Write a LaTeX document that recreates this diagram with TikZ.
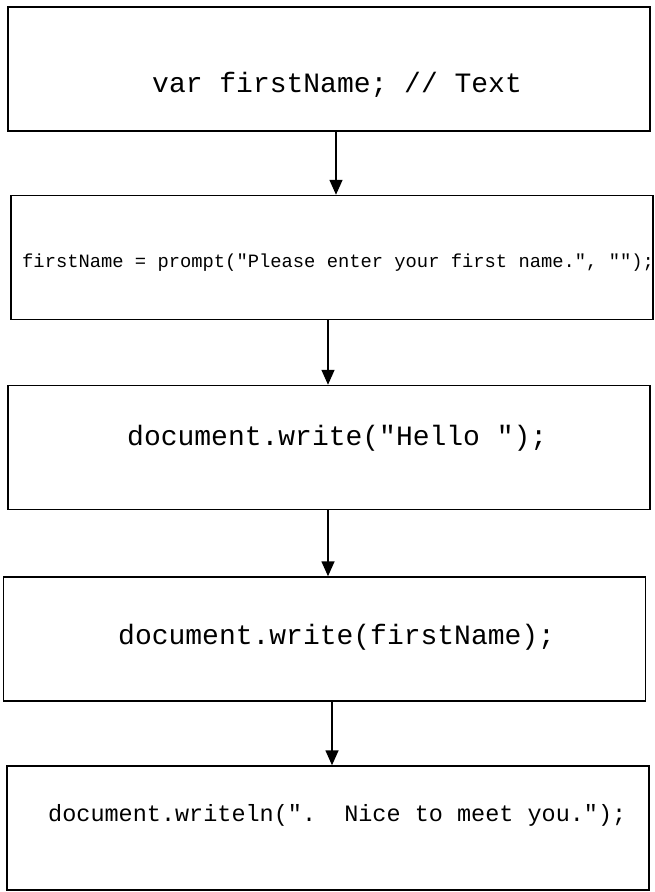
\documentclass[tikz,border=0pt]{standalone}
\usepackage{fontspec}
\setmonofont{Liberation Mono}
\usetikzlibrary{arrows.meta}

\begin{document}
\begin{tikzpicture}[x=1pt,y=-1pt]
\tikzset{
  stepbox/.style={draw,rectangle,line width=1.5pt,minimum width=642pt,minimum height=124pt,inner sep=0pt},
  code/.style={anchor=base west,inner sep=0pt,font=\ttfamily\fontsize{#1}{#1}\selectfont},
  flow/.style={-{Triangle[length=15pt,width=13pt]},line width=1.6pt}
}
\useasboundingbox (0,0) rectangle (655,892);
\node[stepbox] (n_decl) at (329,69) {};
\node[stepbox] (n_prompt) at (332,257.5) {};
\node[stepbox] (n_hello) at (329,447.5) {};
\node[stepbox] (n_name) at (324.5,639) {};
\node[stepbox] (n_nice) at (328,828) {};
\node[code=28] (t_decl) at (152,92) {var firstName; // Text};
\node[code=18.8] (t_prompt) at (22,267) {firstName = prompt("Please enter your first name.", "");};
\node[code=28] (t_hello) at (127,445) {document.write("Hello\ ");};
\node[code=28] (t_name) at (118,644) {document.write(firstName);};
\node[code=23.5] (t_nice) at (48,821) {document.writeln(".\ \ Nice to meet you.");};
\draw[flow] (n_decl.south -| 336,0) -- (n_prompt.north -| 336,0);
\draw[flow] (n_prompt.south -| 328,0) -- (n_hello.north -| 328,0);
\draw[flow] (n_hello.south -| 328,0) -- (n_name.north -| 328,0);
\draw[flow] (n_name.south -| 332,0) -- (n_nice.north -| 332,0);
\end{tikzpicture}
\end{document}
